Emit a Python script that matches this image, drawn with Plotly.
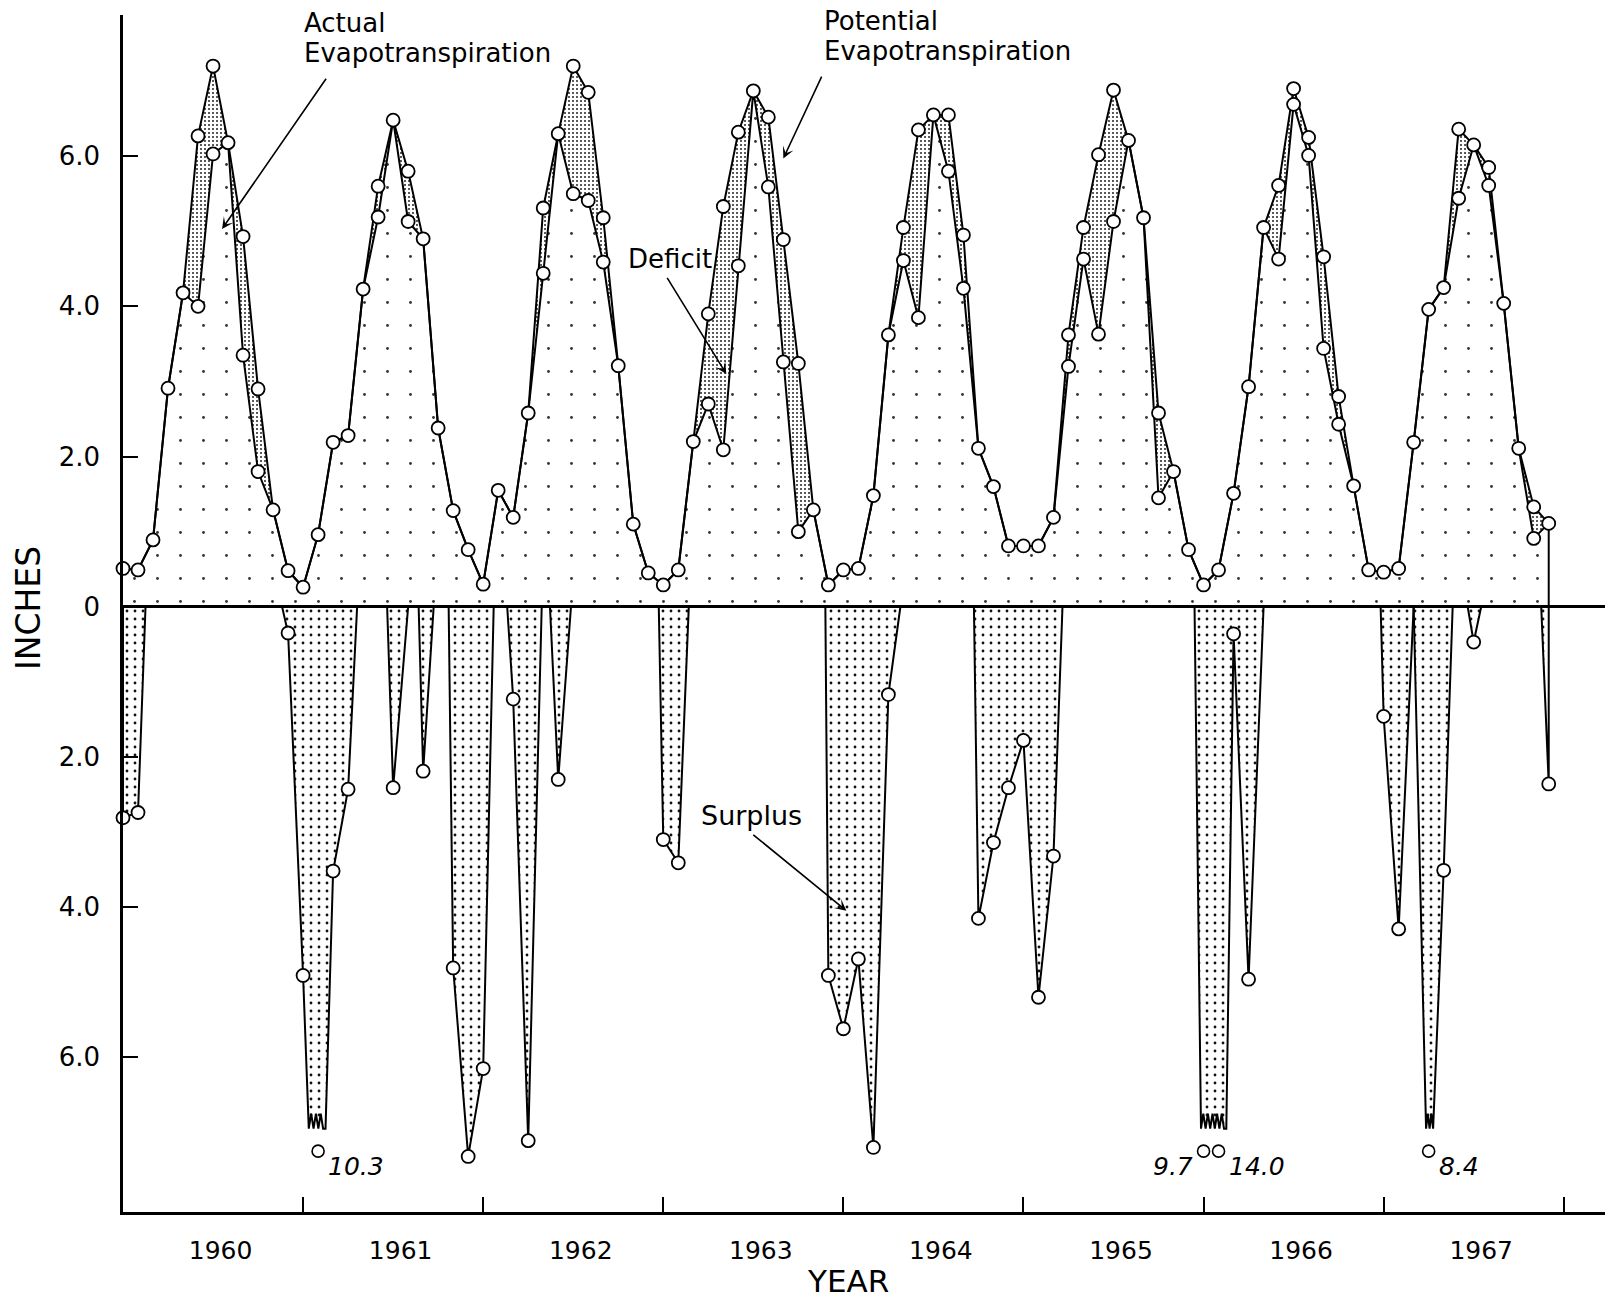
import plotly.graph_objects as go

# ---------------- data (monthly, Jan 1960 = month 0) ----------------
MONTHS = list(range(96))

POTENTIAL_ET = [
    0.51, 0.49, 0.89, 2.91, 4.18, 6.27, 7.20, 6.18, 4.93, 2.90, 1.29, 0.48,   # 1960
    0.26, 0.96, 2.19, 2.28, 4.23, 5.60, 6.48, 5.80, 4.90, 2.38, 1.28, 0.76,   # 1961
    0.30, 1.55, 1.19, 2.58, 5.31, 6.30, 7.20, 6.85, 5.18, 3.21, 1.10, 0.45,   # 1962
    0.29, 0.49, 2.20, 3.90, 5.33, 6.32, 6.87, 6.52, 4.89, 3.24, 1.29, 0.29,   # 1963
    0.49, 0.51, 1.48, 3.62, 5.05, 6.35, 6.55, 6.55, 4.95, 2.11, 1.60, 0.81,   # 1964
    0.81, 0.81, 1.19, 3.62, 5.05, 6.02, 6.88, 6.21, 5.18, 2.58, 1.80, 0.76,   # 1965
    0.29, 0.49, 1.51, 2.93, 5.05, 5.61, 6.90, 6.25, 4.66, 2.80, 1.61, 0.49,   # 1966
    0.46, 0.51, 2.19, 3.96, 4.25, 6.36, 6.15, 5.85, 4.04, 2.11, 1.33, 1.11,   # 1967
]

ACTUAL_ET = [
    0.51, 0.49, 0.89, 2.91, 4.18, 4.00, 6.03, 6.18, 3.35, 1.80, 1.29, 0.48,   # 1960
    0.26, 0.96, 2.19, 2.28, 4.23, 5.19, 6.48, 5.13, 4.90, 2.38, 1.28, 0.76,   # 1961
    0.30, 1.55, 1.19, 2.58, 4.44, 6.30, 5.50, 5.41, 4.59, 3.21, 1.10, 0.45,   # 1962
    0.29, 0.49, 2.20, 2.70, 2.09, 4.54, 6.87, 5.59, 3.26, 1.00, 1.29, 0.29,   # 1963
    0.49, 0.51, 1.48, 3.62, 4.61, 3.85, 6.55, 5.80, 4.24, 2.11, 1.60, 0.81,   # 1964
    0.81, 0.81, 1.19, 3.20, 4.63, 3.63, 5.13, 6.21, 5.18, 1.45, 1.80, 0.76,   # 1965
    0.29, 0.49, 1.51, 2.93, 5.05, 4.63, 6.69, 6.01, 3.44, 2.43, 1.61, 0.49,   # 1966
    0.46, 0.51, 2.19, 3.96, 4.25, 5.44, 6.15, 5.61, 4.04, 2.11, 0.91, 1.11,   # 1967
]

SURPLUS = [
    2.81, 2.74, 0, 0, 0, 0, 0, 0, 0, 0, 0, 0.35,                            # 1960
    4.91, 10.3, 3.52, 2.43, 0, 0, 2.41, 0, 2.19, 0, 4.81, 7.32,              # 1961
    6.15, 0, 1.23, 7.11, 0, 2.30, 0, 0, 0, 0, 0, 0,                          # 1962
    3.10, 3.41, 0, 0, 0, 0, 0, 0, 0, 0, 0, 4.91,                             # 1963
    5.62, 4.69, 7.20, 1.17, 0, 0, 0, 0, 0, 4.15, 3.14, 2.41,                 # 1964
    1.78, 5.20, 3.32, 0, 0, 0, 0, 0, 0, 0, 0, 0,                             # 1965
    9.7, 14.0, 0.36, 4.96, 0, 0, 0, 0, 0, 0, 0, 0,                           # 1966
    1.46, 4.29, 0, 8.4, 3.51, 0, 0.47, 0, 0, 0, 0, 2.36,                     # 1967
]

# where each surplus episode leaves / returns to the zero line (month units)
SURPLUS_START = [0.0, 10.6, 17.6, 19.7, 21.7, 25.6, 28.45, 35.7, 46.8, 56.7, 71.4, 83.8, 86.0, 89.6, 94.5]
SURPLUS_END = [1.5, 15.6, 19.0, 20.7, 24.7, 27.9, 29.85, 37.7, 51.8, 62.6, 76.0, 86.0, 88.6, 90.5, 95.0]

YEARS = [1960, 1961, 1962, 1963, 1964, 1965, 1966, 1967]
Y_TICK_VALUES = [6, 4, 2, 0, -2, -4, -6]
Y_TICK_TEXT = ["6.0", "4.0", "2.0", "0", "2.0", "4.0", "6.0"]

# ---------------- styling constants ----------------
FONT = "DejaVu Sans"
INK = "black"
CAP = 6.95          # depth where off-scale spikes are broken
OFF_SCALE = 8.0     # values deeper than this are off the axis
TOOTH = 0.2
OFF_MARK_DEPTH = 7.25
OFF_LABEL_DEPTH = 7.45
OFF_LABEL_SIDE = {72: "left"}  # default "right"

fig = go.Figure()

# area under actual ET (light stipple)
fig.add_trace(go.Scatter(
    x=MONTHS, y=ACTUAL_ET, mode="lines",
    line=dict(color=INK, width=2),
    fill="tozeroy", fillcolor="rgba(0,0,0,0)",
    fillpattern=dict(shape=".", size=23, solidity=0.012, fgcolor="#333",
                     bgcolor="rgba(0,0,0,0)", fillmode="replace"),
    hoverinfo="skip", showlegend=False,
))
# deficit between potential and actual (dense stipple)
fig.add_trace(go.Scatter(
    x=MONTHS, y=POTENTIAL_ET, mode="lines",
    line=dict(color=INK, width=2),
    fill="tonexty", fillcolor="rgba(0,0,0,0)",
    fillpattern=dict(shape=".", size=4, solidity=0.2, fgcolor="#222",
                     bgcolor="rgba(0,0,0,0)", fillmode="replace"),
    hoverinfo="skip", showlegend=False,
))

# closing vertical line at the end of the record
fig.add_trace(go.Scatter(
    x=[MONTHS[-1], MONTHS[-1]], y=[ACTUAL_ET[-1], 0], mode="lines",
    line=dict(color=INK, width=2), hoverinfo="skip", showlegend=False,
))

# ---------------- surplus episodes ----------------
runs = []
m = 0
while m < len(SURPLUS):
    if SURPLUS[m] > 0:
        s = m
        while m < len(SURPLUS) and SURPLUS[m] > 0:
            m += 1
        runs.append(list(range(s, m)))
    else:
        m += 1


def clip_run(xs, vs):
    if max(vs) <= OFF_SCALE:
        return xs, vs
    ox, oy = [], []
    cut_start = None
    for i, (x, v) in enumerate(zip(xs, vs)):
        if i > 0:
            x0, v0 = xs[i - 1], vs[i - 1]
            if (v0 > CAP) != (v > CAP):
                t = (CAP - v0) / (v - v0)
                xc = x0 + t * (x - x0)
                if v > CAP:
                    cut_start = xc
                    ox.append(xc)
                    oy.append(CAP)
                else:
                    n = max(4, int(round((xc - cut_start) / 0.16)))
                    for k in range(1, n):
                        ox.append(cut_start + (xc - cut_start) * k / n)
                        oy.append(CAP - (TOOTH if k % 2 else 0.0))
                    ox.append(xc)
                    oy.append(CAP)
        if v <= CAP:
            ox.append(x)
            oy.append(v)
    return ox, oy


sx, sy = [], []
off_x, off_v = [], []
for run, start, end in zip(runs, SURPLUS_START, SURPLUS_END):
    xs = [start] + run + [end]
    vs = [0.0] + [SURPLUS[k] for k in run] + [0.0]
    cx, cy = clip_run(xs, vs)
    fig.add_trace(go.Scatter(
        x=cx, y=[-v for v in cy], mode="lines",
        line=dict(color=INK, width=2),
        fill="toself", fillcolor="rgba(0,0,0,0)",
        fillpattern=dict(shape=".", size=8, solidity=0.1, fgcolor="#111",
                         bgcolor="rgba(0,0,0,0)", fillmode="replace"),
        hoverinfo="skip", showlegend=False,
    ))
    for k in run:
        if SURPLUS[k] <= OFF_SCALE:
            sx.append(k)
            sy.append(-SURPLUS[k])
        else:
            off_x.append(k)
            off_v.append(SURPLUS[k])

# ---------------- markers ----------------
marker_style = dict(symbol="circle", size=13, color="white", line=dict(color=INK, width=1.8))
ae_x = [mm for mm in MONTHS if abs(ACTUAL_ET[mm] - POTENTIAL_ET[mm]) > 1e-9]
fig.add_trace(go.Scatter(x=ae_x, y=[ACTUAL_ET[mm] for mm in ae_x], mode="markers",
                         marker=marker_style, cliponaxis=False, hoverinfo="skip", showlegend=False))
fig.add_trace(go.Scatter(x=MONTHS, y=POTENTIAL_ET, mode="markers",
                         marker=marker_style, cliponaxis=False, hoverinfo="skip", showlegend=False))
fig.add_trace(go.Scatter(x=sx, y=sy, mode="markers",
                         marker=marker_style, cliponaxis=False, hoverinfo="skip", showlegend=False))
fig.add_trace(go.Scatter(x=off_x, y=[-OFF_MARK_DEPTH] * len(off_x), mode="markers",
                         marker=dict(symbol="circle", size=12, color="white", line=dict(color=INK, width=1.6)),
                         cliponaxis=False, hoverinfo="skip", showlegend=False))

annotations = []
for xk, vk in zip(off_x, off_v):
    side = OFF_LABEL_SIDE.get(xk, "right")
    annotations.append(dict(
        x=xk, y=-OFF_LABEL_DEPTH, xref="x", yref="y", showarrow=False,
        text=f"{vk:.1f}", xanchor="right" if side == "left" else "left",
        xshift=-9 if side == "left" else 8, yanchor="middle",
        font=dict(family=FONT, size=25, color=INK, style="italic"),
    ))


def label(x, y, text, size=25):
    annotations.append(dict(x=x, y=y, xref="x", yref="y", text=text, showarrow=False,
                            xanchor="left", yanchor="middle",
                            font=dict(family=FONT, size=size, color=INK)))


def arrow(x_tail, y_tail, x_head, y_head):
    annotations.append(dict(x=x_head, y=y_head, ax=x_tail, ay=y_tail, xref="x", yref="y",
                            axref="x", ayref="y", text="", showarrow=True,
                            arrowhead=3, arrowsize=1.2, arrowwidth=1.6, arrowcolor=INK))


label(11.9, 7.77, "Actual", 26)
label(11.9, 7.37, "Evapotranspiration", 26)
arrow(13.6, 7.05, 6.6, 5.03)
label(46.6, 7.80, "Potential", 26)
label(46.6, 7.40, "Evapotranspiration", 26)
arrow(46.6, 7.08, 44.0, 5.97)
label(33.5, 4.63, "Deficit", 26)
arrow(36.2, 4.40, 40.2, 3.10)
label(38.4, -2.78, "Surplus", 27)
arrow(41.9, -3.02, 48.2, -4.05)

# axis titles
annotations.append(dict(x=0.489, y=-0.058, xref="paper", yref="paper", text="YEAR",
                        showarrow=False, xanchor="center", yanchor="middle",
                        font=dict(family=FONT, size=31, color=INK)))
annotations.append(dict(x=-0.0638, y=0.505, xref="paper", yref="paper", text="INCHES",
                        showarrow=False, textangle=-90, xanchor="center", yanchor="middle",
                        font=dict(family=FONT, size=33, color=INK)))

fig.update_layout(
    width=1613, height=1303,
    margin=dict(l=123, r=8, t=15, b=91),
    paper_bgcolor="white", plot_bgcolor="white",
    showlegend=False,
    annotations=annotations,
    xaxis=dict(
        range=[0, 98.75], showgrid=False, zeroline=False,
        showline=True, linecolor=INK, linewidth=3,
        tickmode="array", tickvals=[12 * i + 6.5 for i in range(len(YEARS))],
        ticktext=[str(yv) for yv in YEARS], ticks="", ticklabelstandoff=14,
        tickfont=dict(family=FONT, size=25, color=INK),
        minor=dict(tickmode="array", tickvals=[12 * i for i in range(1, len(YEARS) + 1)],
                   ticks="inside", ticklen=15, tickwidth=2, tickcolor=INK, showgrid=False),
    ),
    yaxis=dict(
        range=[-8.06, 7.88], showgrid=False,
        zeroline=True, zerolinecolor=INK, zerolinewidth=3,
        showline=True, linecolor=INK, linewidth=2.5,
        tickmode="array", tickvals=Y_TICK_VALUES, ticktext=Y_TICK_TEXT,
        ticks="inside", ticklen=15, tickwidth=2, tickcolor=INK, ticklabelstandoff=15,
        tickfont=dict(family=FONT, size=26, color=INK),
    ),
)

fig.write_html("out.html", config={"displayModeBar": False})
